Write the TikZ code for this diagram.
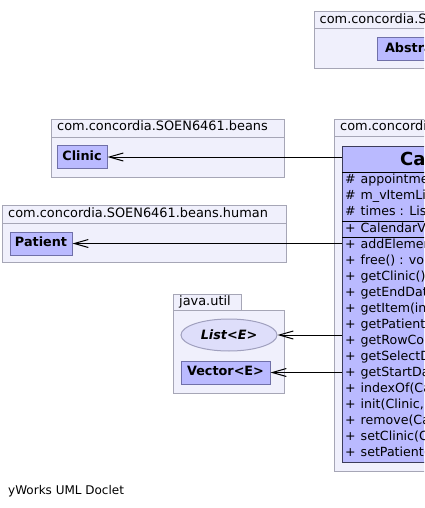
\documentclass[tikz,border=0pt]{standalone}
\usepackage{fontspec}
\setmainfont{DejaVu Sans}
\usepackage{xcolor}
\usepackage{tikz}
\usetikzlibrary{arrows.meta,shapes.geometric}

\definecolor{pkgfill}{RGB}{240,240,252}
\definecolor{pkgline}{RGB}{166,166,182}
\definecolor{clsfill}{RGB}{186,186,255}
\definecolor{clsline}{RGB}{112,112,168}
\definecolor{bigline}{RGB}{60,60,90}
\definecolor{ifcfill}{RGB}{222,222,250}
\definecolor{ifcline}{RGB}{160,160,190}

% visibility column of a member line
\newcommand\vis[1]{\makebox[15.5pt][l]{#1}}

\begin{document}
\begin{tikzpicture}[x=1pt,y=-1pt,
  pkgframe/.style={draw=pkgline,fill=pkgfill,line width=1pt},
  pkgname/.style={anchor=west,inner sep=0pt,text height=9pt,text depth=3pt,font=\fontsize{12.9}{15}\selectfont},
  classbox/.style={draw=clsline,fill=clsfill,line width=1pt,minimum height=23pt,inner sep=0pt,text height=9pt,text depth=3pt,font=\fontsize{12.8}{15}\selectfont\bfseries},
  bigclass/.style={draw=bigline,fill=clsfill,line width=1pt,inner sep=0pt},
  ifcbox/.style={draw=ifcline,fill=ifcfill,ellipse,line width=1pt,minimum width=96pt,minimum height=32pt,inner sep=0pt,font=\fontsize{12.8}{15}\selectfont\bfseries\itshape},
  member/.style={anchor=west,inner sep=0pt,text height=9pt,text depth=3pt,font=\fontsize{12.6}{15}\selectfont},
  sepline/.style={draw=black,line width=1pt},
  dep/.style={-{Straight Barb[length=14pt,width=8pt]},line width=1pt}
]
\useasboundingbox (0,0) rectangle (424,508);
\clip (0,0) rectangle (424,508);

% top right package, cut at the border
\draw[pkgframe] (314,12) rectangle (700,69);
\draw[pkgframe] (314,12) rectangle (700,29);
\node[pkgname] (pkgtop) at (319.5,20.5) {com.concordia.SOEN6461.gui};
\node[classbox,anchor=west,inner xsep=7.5pt] (abstr) at (377,49.5) {AbstractTableModel};

% beans
\draw[pkgframe] (51,119) rectangle (284,177);
\draw[pkgframe] (51,119) rectangle (284,137);
\node[pkgname] (pkgbeans) at (57,128) {com.concordia.SOEN6461.beans};
\node[classbox,minimum width=50pt] (clinic) at (82,157) {Clinic};

% beans.human
\draw[pkgframe] (2,205) rectangle (286,262);
\draw[pkgframe] (2,205) rectangle (286,223.5);
\node[pkgname] (pkghuman) at (8,214.5) {com.concordia.SOEN6461.beans.human};
\node[classbox,minimum width=62pt] (patient) at (41,243.5) {Patient};

% java.util
\draw[pkgframe] (173,294) rectangle (241,310);
\draw[pkgframe] (173,310) rectangle (284,393);
\node[pkgname] (pkgutil) at (179,302) {java.util};
\node[ifcbox] (list) at (229,335) {List<E>};
\node[classbox,minimum width=89pt] (vector) at (225.5,372.5) {Vector<E>};

% calendar package and its class
\draw[pkgframe] (334,119) rectangle (700,471);
\draw[pkgframe] (334,119) rectangle (700,136);
\node[pkgname] (pkgcal) at (340,127.5) {com.concordia.SOEN6461.calendar};
\node[bigclass,anchor=north west,minimum width=320pt,minimum height=316pt] (calbox) at (342,146) {};
\draw[sepline] (342,172) -- (662,172);
\draw[sepline] (342,221) -- (662,221);
\draw[sepline] (342,237) -- (662,237);
\node[anchor=west,inner sep=0pt,font=\fontsize{18}{21}\selectfont\bfseries] (calname) at (400,159) {CalendarViewModel};

\node[member] (a1) at (345,180.5) {\vis{\#}appointments : Vector};
\node[member] (a2) at (345,196.5) {\vis{\#}m\_vItemList : Vector};
\node[member] (a3) at (345,212.5) {\vis{\#}times : List};
\node[member] (ctor) at (345,229) {\vis{+}CalendarViewModel()};
\node[member] (m1) at (345,245.5) {\vis{+}addElement(Appointment) : void};
\node[member] (m2) at (345,261.5) {\vis{+}free() : void};
\node[member] (m3) at (345,277.5) {\vis{+}getClinic() : Clinic};
\node[member] (m4) at (345,293.5) {\vis{+}getEndDate() : Date};
\node[member] (m5) at (345,309.5) {\vis{+}getItem(int) : Object};
\node[member] (m6) at (345,325.5) {\vis{+}getPatient() : Patient};
\node[member] (m7) at (345,341.5) {\vis{+}getRowCount() : int};
\node[member] (m8) at (345,357.5) {\vis{+}getSelectDate() : Date};
\node[member] (m9) at (345,373.5) {\vis{+}getStartDate() : Date};
\node[member] (m10) at (345,389.5) {\vis{+}indexOf(Calendar) : int};
\node[member] (m11) at (345,405.5) {\vis{+}init(Clinic, Patient) : void};
\node[member] (m12) at (345,421.5) {\vis{+}remove(Calendar) : void};
\node[member] (m13) at (345,437.5) {\vis{+}setClinic(Clinic) : void};
\node[member] (m14) at (345,453.5) {\vis{+}setPatient(Patient) : void};

\node[anchor=west,inner sep=0pt,font=\fontsize{12}{14}\selectfont] (doclet) at (8,491) {yWorks UML Doclet};

\draw[dep] (clinic -| calbox.west) -- (clinic);
\draw[dep] (patient -| calbox.west) -- (patient);
\draw[dep] (list -| calbox.west) -- (list);
\draw[dep] (vector -| calbox.west) -- (vector);
\end{tikzpicture}
\end{document}
